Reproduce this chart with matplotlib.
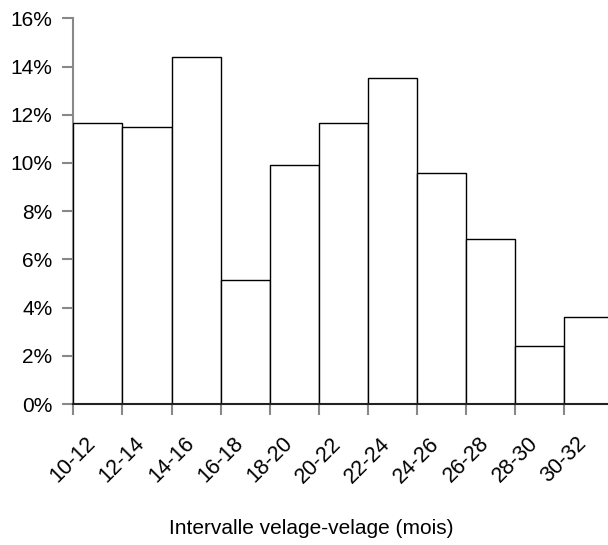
import matplotlib
matplotlib.use("Agg")
import matplotlib.pyplot as plt
from matplotlib.ticker import FuncFormatter

categories = ["10-12", "12-14", "14-16", "16-18", "18-20", "20-22",
              "22-24", "24-26", "26-28", "28-30", "30-32"]
values = [11.65, 11.48, 14.38, 5.15, 9.93, 11.65, 13.53, 9.59, 6.85, 2.41, 3.61]
y_ticks = [0, 2, 4, 6, 8, 10, 12, 14, 16]
x_label = "Intervalle velage-velage (mois)"

plt.rcParams['font.family'] = ['Liberation Sans', 'DejaVu Sans']

W, H = 608, 545
fig = plt.figure(figsize=(W / 100, H / 100), dpi=100)
left, bottom, top = 73.3, 404, 18.3
ax = fig.add_axes([left / W, (H - bottom) / H, 1 - left / W, (bottom - top) / H])

pos = list(range(len(categories)))
ax.bar(pos, values, width=1.0, align='edge', color='white',
       edgecolor='black', linewidth=1.0, zorder=3)

bar_px = 49.1
ax.set_xlim(0, (W - left) / bar_px)
ax.set_ylim(0, 16)

ax.set_xticks(pos)
ax.set_xticklabels(categories, rotation=45, ha='center', fontsize=15.5)
ax.set_yticks(y_ticks)
ax.yaxis.set_major_formatter(FuncFormatter(lambda v, p: f"{v:.0f}%"))
ax.tick_params(axis='y', labelsize=15, length=8, width=1.5, color='#888888', pad=7)
ax.tick_params(axis='x', length=8, width=1.5, color='#888888', pad=13)

for s in ['top', 'right']:
    ax.spines[s].set_visible(False)
ax.spines['left'].set_color('#888888')
ax.spines['left'].set_linewidth(1.5)
ax.spines['bottom'].set_color('#222222')
ax.spines['bottom'].set_linewidth(1.5)
ax.spines['bottom'].set_zorder(4)

fig.text(311 / W, 1 - 528 / H, x_label, ha='center', va='center', fontsize=15)

fig.savefig("out.png", dpi=100)
